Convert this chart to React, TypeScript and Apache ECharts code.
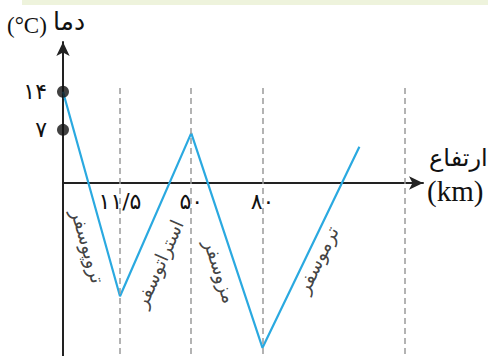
import React, { useEffect, useRef } from "react";
import * as echarts from "echarts";

// schematic altitude positions (boundaries) and their labels
const boundaryX = [1, 2.25, 3.5, 6];
const boundaryLabels = ["۱۱/۵", "۵۰", "۸۰", ""];
// temperature profile (schematic)
const profileX = [0, 1, 2.25, 3.5, 5.2];
const profileT = [14, -23.6, 6.4, -33.1, 3.9];
// y ticks
const yTicks = [14, 7];
const yTickLabels = ["۱۴", "۷"];
// layer names and label anchors
const layerNames = ["تروپوسفر", "استراتوسفر", "مزوسفر", "ترموسفر"];
const layerX = [0.44, 1.68, 2.76, 4.46];
const layerY = [-14.4, -17.6, -19.0, -16.9];
const layerRotate = [-74, 66, -72, 64];

const X_MAX = 6.316;
const Y_MIN = -34.6;
const Y_MAX = 23.16;
const DASH_TOP = 14.7;

export default function App() {
  const ref = useRef<HTMLDivElement>(null);
  useEffect(() => {
    const chart = echarts.init(ref.current!, null, { renderer: "svg" });
    const fa = "DejaVu Sans";
    chart.setOption({
      animation: false,
      grid: { left: 63, right: 65, top: 42, bottom: 0, outerBoundsMode: "none" },
      xAxis: {
        type: "value",
        min: 0,
        max: X_MAX,
        position: "bottom",
        offset: -173,
        splitLine: { show: false },
        axisTick: { show: false },
        axisLine: {
          show: true,
          onZero: false,
          symbol: ["none", "arrow"],
          symbolSize: [10, 14],
          lineStyle: { color: "#222", width: 2 },
        },
        axisLabel: {
          customValues: boundaryX.slice(0, 3),
          formatter: (v: number) => boundaryLabels[boundaryX.indexOf(v)] ?? "",
          color: "#111",
          fontFamily: fa,
          fontSize: 22,
          margin: 7,
        },
      },
      yAxis: {
        type: "value",
        min: Y_MIN,
        max: Y_MAX,
        splitLine: { show: false },
        axisTick: { show: false },
        axisLine: {
          show: true,
          onZero: false,
          symbol: ["none", "arrow"],
          symbolSize: [10, 14],
          lineStyle: { color: "#222", width: 2 },
        },
        axisLabel: {
          customValues: yTicks,
          formatter: (v: number) => yTickLabels[yTicks.indexOf(v)] ?? "",
          color: "#111",
          fontFamily: fa,
          fontSize: 22,
          margin: 16,
        },
      },
      series: [
        {
          type: "line",
          data: profileX.map((x, i) => [x, profileT[i]]),
          symbol: "none",
          lineStyle: { color: "#2aa9e0", width: 2.2 },
          z: 3,
          markLine: {
            silent: true,
            symbol: "none",
            label: { show: false },
            lineStyle: { color: "#9a9a9a", type: [6, 4], width: 1.5 },
            data: boundaryX.map((x) => [
              { coord: [x, DASH_TOP] },
              { coord: [x, Y_MIN] },
            ]),
          },
        },
        {
          type: "scatter",
          data: yTicks.map((t) => [0, t]),
          symbolSize: 12,
          itemStyle: { color: "#111" },
          z: 5,
        },
        {
          type: "scatter",
          data: layerNames.map((n, i) => ({
            value: [layerX[i], layerY[i]],
            label: {
              show: true,
              formatter: n,
              rotate: layerRotate[i],
              position: "inside",
              color: "#111",
              fontFamily: fa,
              fontSize: 19,
            },
          })),
          symbolSize: 0,
          z: 6,
        },
      ],
      graphic: [
        { type: "rect", shape: { x: 22, y: 0, width: 466, height: 5 }, style: { fill: "#eef3dc" } },
        {
          type: "text",
          x: 7,
          y: 25,
          style: { text: "(°C)", font: "23px 'Liberation Serif'", fill: "#111", verticalAlign: "middle" },
        },
        {
          type: "text",
          x: 53,
          y: 21,
          style: { text: "دما", font: "25px 'DejaVu Sans'", fill: "#111", verticalAlign: "middle" },
        },
        {
          type: "text",
          x: 429,
          y: 158,
          style: { text: "ارتفاع", font: "24px 'DejaVu Sans'", fill: "#111", verticalAlign: "middle" },
        },
        {
          type: "text",
          x: 427,
          y: 191,
          style: { text: "(km)", font: "29px 'Liberation Serif'", fill: "#111", verticalAlign: "middle" },
        },
      ],
    });
    return () => chart.dispose();
  }, []);
  return (
    <div
      ref={ref}
      style={{ position: "fixed", left: 0, top: 0, width: 488, height: 356, background: "#fff" }}
    />
  );
}
